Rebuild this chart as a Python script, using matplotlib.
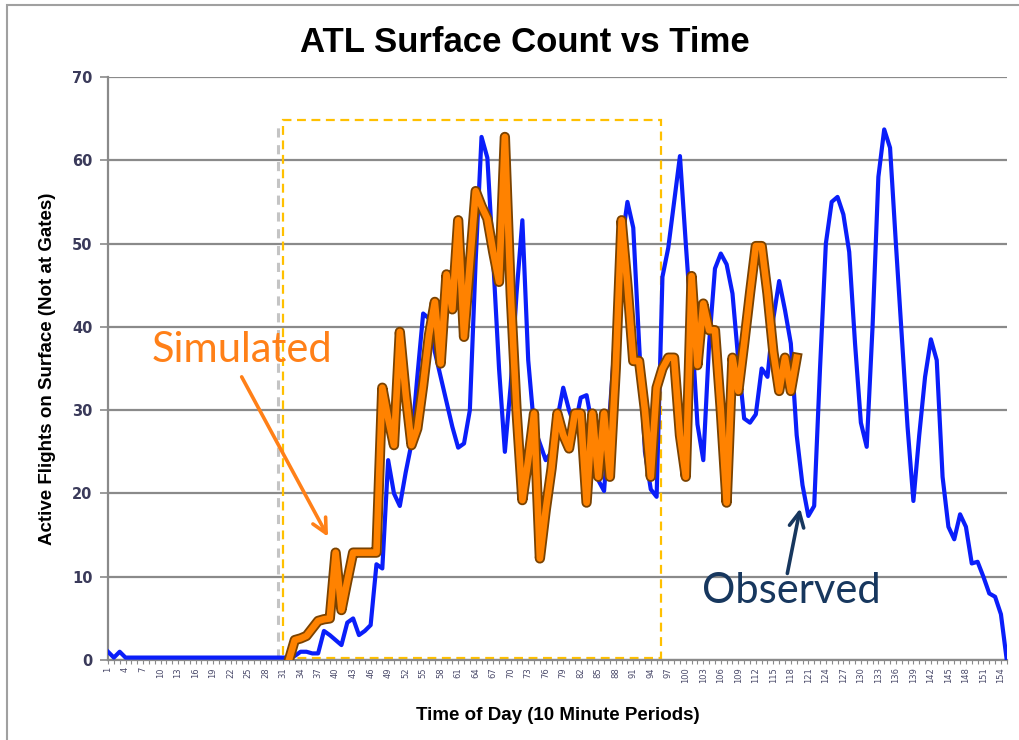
import matplotlib
matplotlib.use("Agg")
import matplotlib.pyplot as plt
import matplotlib.patheffects as pe
from matplotlib.patches import Rectangle
import numpy as np

# observed surface count, one value per 10 minute period
observed = [1.0, 0.3, 1.0, 0.3] + [0.3] * 28 + [
    0.5, 1.0, 1.0, 0.8, 0.8, 3.5, 3.0, 2.4, 1.8, 4.5,
    5.0, 3.0, 3.5, 4.2, 11.5, 11, 24, 20, 18.5, 22.5,
    26, 34, 41.6, 41, 37, 34, 31, 28, 25.5, 26,
    30, 48, 62.8, 60.3, 48, 35, 25, 33, 44, 52.8,
    36, 28, 26, 24, 25, 29, 32.7, 30, 28, 31.5,
    31.8, 28, 21.6, 20.3, 30, 40, 50, 55, 51.9, 38,
    25, 20.5, 19.6, 46, 49.5, 55, 60.5, 50, 40, 28.3,
    24, 38, 47, 48.8, 47.5, 44, 36, 29, 28.5, 29.5,
    35, 34, 41, 45.5, 42, 38, 27, 21, 17.3, 18.5,
    35, 50, 55, 55.6, 53.5, 49, 38, 28.5, 25.6, 40,
    58, 63.7, 61.5, 50, 39, 28, 19.1, 27, 34, 38.5,
    36, 22, 16, 14.5, 17.5, 16, 11.6, 11.8, 10, 8,
    7.6, 5.5, 0]

# simulated surface count, starts at period index 31
sim_start = 31
simulated = [
    0, 2.4, 2.6, 2.9, 3.8, 4.7, 4.9, 5.0, 12.9, 6,
    9.5, 12.9, 12.9, 12.9, 12.9, 12.9, 32.7, 29, 25.8, 39.4,
    32, 25.8, 27.8, 33, 39, 43, 35.6, 46.3, 42.1, 52.8,
    38.8, 47.5, 56.3, 54.5, 53, 49, 45.4, 62.8, 44, 30,
    19.2, 24, 29.6, 12.2, 18, 23, 29.6, 27, 25.4, 29.6,
    29.6, 18.9, 29.6, 22, 29.6, 22, 35, 52.8, 45, 35.9,
    35.9, 30, 22, 32.7, 35, 36.3, 36.3, 27, 22, 46.1,
    35.4, 42.8, 39.6, 39.6, 30, 18.9, 36.3, 32.3, 38, 44,
    49.7, 49.7, 44, 37, 32.3, 36.3, 32.3, 36.3]

periods = np.arange(len(observed))
sim_periods = np.arange(sim_start, sim_start + len(simulated))
tick_labels = [str(p + 1) for p in periods[::3]]

# comparison window (dashed box)
box_periods = (30.0, 94.7)
box_counts = (0.3, 64.8)

fig = plt.figure(figsize=(10.19, 7.40), dpi=100)
ax = fig.add_axes([0.106, 0.108, 0.882, 0.788])

fig.patches.append(Rectangle((0.007, -0.05), 1.1, 1.043, transform=fig.transFigure,
                             fill=False, edgecolor="#a0a0a0", linewidth=1.5))

ax.set_xlim(0, len(observed) - 1)
ax.set_ylim(0, 70)
ax.set_yticks(range(0, 71, 10))
ax.yaxis.grid(True, color="#8a8a8a", linewidth=1.6)
ax.set_axisbelow(True)
for s in ["top", "right"]:
    ax.spines[s].set_visible(False)
for s in ["left", "bottom"]:
    ax.spines[s].set_color("#8a8a8a")
    ax.spines[s].set_linewidth(1.6)

ax.tick_params(axis="y", length=6, width=1.2, color="#8a8a8a", labelsize=10.5,
               labelcolor="#3a3a5a", pad=5)
for t in ax.get_yticklabels():
    t.set_fontweight("bold")
ax.set_xticks(periods, minor=True)
ax.set_xticks(periods[::3])
ax.set_xticklabels(tick_labels, rotation=90, fontsize=6, color="#4a4a6a")
ax.tick_params(axis="x", which="both", length=3, width=0.8, color="#8a8a8a", pad=2)

ax.plot(periods, observed, color="#0a1efa", linewidth=3.0, solid_joinstyle="round", zorder=3)
ax.plot(sim_periods, simulated, color="#ff8200", linewidth=4.8, solid_joinstyle="round", zorder=4,
        path_effects=[pe.Stroke(linewidth=7.4, foreground="#7a4200"), pe.Normal()])

# dashed window with a faint shadow on its left edge
ax.vlines(box_periods[0] - 0.8, box_counts[0], box_counts[1] - 0.6, color="#c4c4c4",
          linewidth=2.2, linestyle=(0, (3, 2.5)), zorder=1.5)
ax.add_patch(Rectangle((box_periods[0], box_counts[0]), box_periods[1] - box_periods[0],
                       box_counts[1] - box_counts[0], fill=False, edgecolor="#ffc000",
                       linewidth=1.6, linestyle=(0, (4, 2.5)), zorder=2))

# annotations
ax.text(23.0, 37.2, "Simulated", fontsize=30, family="Lato", color="#ff8018",
        ha="center", va="center")
ax.annotate("", xy=(37.7, 14.8), xytext=(22.9, 34.0),
            arrowprops=dict(arrowstyle="->", color="#ff8018", lw=2.6, mutation_scale=26,
                            shrinkA=0, shrinkB=0))
ax.text(117.0, 8.3, "Observed", fontsize=30, family="Lato", color="#17375e",
        ha="center", va="center")
ax.annotate("", xy=(118.6, 18.2), xytext=(116.4, 10.4),
            arrowprops=dict(arrowstyle="->", color="#17375e", lw=2.6, mutation_scale=26,
                            shrinkA=0, shrinkB=0))

fig.text(0.515, 0.943, "ATL Surface Count vs Time", fontsize=25, fontweight="bold",
         family="Liberation Sans", ha="center", va="center")
ax.set_ylabel("Active Flights on Surface (Not at Gates)", fontsize=13.5, fontweight="bold",
              family="Liberation Sans", labelpad=12)
ax.set_xlabel("Time of Day (10 Minute Periods)", fontsize=13.5, fontweight="bold",
              family="Liberation Sans", labelpad=17)

fig.savefig("out.png", dpi=100)
